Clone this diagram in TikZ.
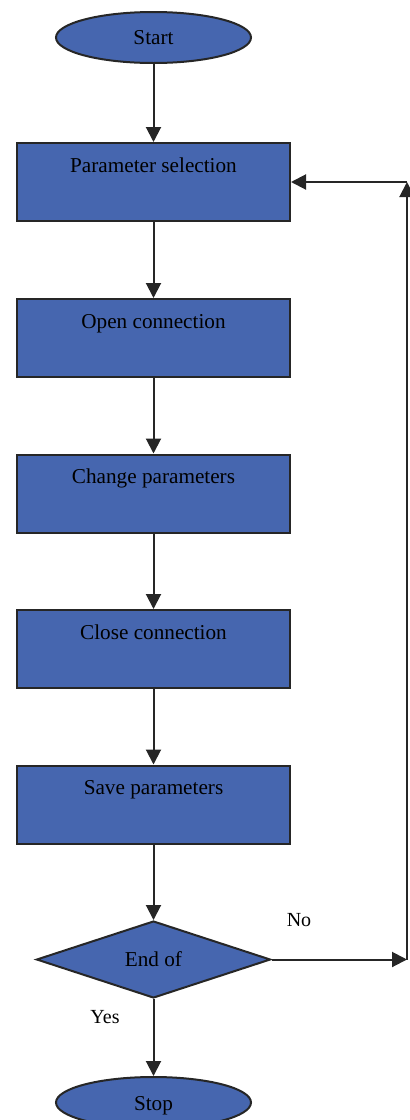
\documentclass[tikz,border=0pt]{standalone}
\usepackage{fontspec}
\setmainfont{Liberation Serif}
\usetikzlibrary{shapes.geometric,arrows.meta}
\definecolor{boxblue}{RGB}{70,102,175}
\tikzset{
  base/.style={draw=black!85, line width=1pt, fill=boxblue, inner sep=0pt, font=\fontsize{10.6}{12}\selectfont},
  term/.style={base, ellipse, minimum width=97.5pt, minimum height=25.5pt},
  stepbox/.style={base, rectangle, minimum width=136.5pt, text height=14.5pt, text depth=24.5pt},
  decision/.style={base, diamond, minimum width=117pt, minimum height=38.5pt},
  conn/.style={draw=black!85, line width=1pt, -{Triangle[length=7.5pt,width=7.5pt]}},
  lbl/.style={font=\fontsize{10}{12}\selectfont}
}
\begin{document}
\begin{tikzpicture}[x=0.5pt,y=-0.5pt]
\useasboundingbox (0,0) rectangle (409,1120);
\node[term] (start) at (153.5,37.5) {Start};
\node[stepbox] (b1) at (153.5,182) {Parameter selection};
\node[stepbox] (b2) at (153.5,338) {Open connection};
\node[stepbox] (b3) at (153.5,493.5) {Change parameters};
\node[stepbox] (b4) at (153.5,649) {Close connection};
\node[stepbox] (b5) at (153.5,804.5) {Save parameters};
\node[decision] (d) at (153.5,959.5) {End of};
\node[term, text depth=0pt, text height=0pt] (stopshape) at (153.5,1102.5) {};
\node[base, draw=none, fill=none] (stop) at (153.5,1106) {Stop};
\coordinate (c1) at (407,959.5);
\coordinate (c2) at (407,182);
\draw[conn] (start) -- (b1);
\draw[conn] (b1) -- (b2);
\draw[conn] (b2) -- (b3);
\draw[conn] (b3) -- (b4);
\draw[conn] (b4) -- (b5);
\draw[conn] (b5) -- (d);
\draw[conn] (d) -- (stopshape);
\draw[conn] (d.east) -- (c1);
\draw[conn] (c1) -- (c2);
\draw[conn] (c2) -- (b1.east);
\node[lbl] (no) at (299,920) {No};
\node[lbl] (yes) at (105,1017) {Yes};
\end{tikzpicture}
\end{document}
